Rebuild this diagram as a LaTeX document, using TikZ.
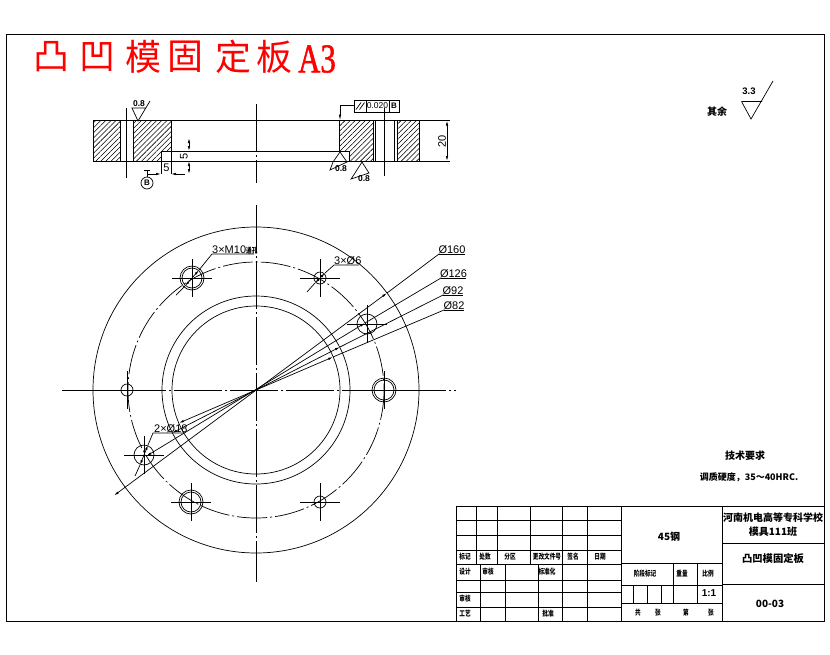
\documentclass[tikz,border=0pt]{standalone}
\usepackage{fontspec}
\setsansfont{Liberation Sans}
\newfontfamily\cjk{Noto Sans CJK SC}
\newfontfamily\cjknarrow[FakeStretch=0.75]{Noto Sans CJK SC}
\newfontfamily\narrowserif[FakeStretch=0.75,FakeBold=1.2]{Liberation Serif}
\usetikzlibrary{calc,patterns.meta,arrows.meta}
\tikzset{
  part/.style={line width=0.95pt},
  thin line/.style={line width=0.7pt},
  center line/.style={line width=0.7pt,dash pattern=on 48pt off 3pt on 2pt off 3pt},
  pitch line/.style={line width=0.7pt,dash pattern=on 30pt off 3pt on 2pt off 3pt},
  dim/.style={line width=0.7pt,{Latex[length=5pt,width=2.4pt]}-{Latex[length=5pt,width=2.4pt]}},
  lead/.style={line width=0.7pt,-{Latex[length=6pt,width=2.4pt]}},
  hatch/.style={pattern={Lines[angle=45,distance=3.6pt,line width=0.55pt]}},
  dimtext/.style={inner sep=0pt,font=\sffamily\fontsize{11}{11}\selectfont},
  cell/.style={inner sep=0pt,font=\cjknarrow\bfseries\fontsize{7.5}{7.5}\selectfont},
  bigcell/.style={inner sep=0pt,font=\cjk\bfseries\fontsize{10}{10}\selectfont},
  rough/.style={inner sep=0pt,font=\sffamily\bfseries\fontsize{8.5}{8.5}\selectfont},
  titlechar/.style={inner sep=0pt,red,font=\cjk\fontsize{36}{36}\selectfont}
}
\begin{document}
\begin{tikzpicture}[x=1pt,y=-1pt]
  \useasboundingbox (0,0) rectangle (830,654);
  \fill[white] (0,0) rectangle (830,654);
  \draw[part] (6,34) rectangle (824,621.5);

  % title
  \foreach \ch/\xpos/\nm in {凸/51/ta,凹/97/tb,模/143/tc,固/185/td,定/233/te,板/274/tf}
    \node[titlechar] (\nm) at (\xpos,57) {\ch};
  \node[inner sep=0pt,red,font=\narrowserif\fontsize{41}{41}\selectfont,anchor=west] (ta3) at (298,59) {A3};

  % section view
  \fill[hatch] (93,120.5) rectangle (120.5,161);
  \fill[hatch] (133.5,120.5) -- (171,120.5) -- (171,151) -- (161,151) -- (161,161) -- (133.5,161) -- cycle;
  \fill[hatch] (339,120.5) -- (373,120.5) -- (373,161) -- (349,161) -- (349,151) -- (339,151) -- cycle;
  \fill[hatch] (397,120.5) rectangle (419.5,161);
  \draw[part] (93,120.5) rectangle (419.5,161);
  \draw[part] (120.5,120.5) -- (120.5,161) (133.5,120.5) -- (133.5,161);
  \draw[part] (171,120.5) -- (171,151) (161,151) -- (161,161) (161,151) -- (349,151) -- (349,161);
  \draw[part] (339,120.5) -- (339,151);
  \draw[part] (373,120.5) -- (373,161) (375,120.5) -- (375,161);
  \draw[part] (394,120.5) -- (394,161) (397,120.5) -- (397,161);
  \draw[thin line] (126,108) -- (126,178);
  \draw[center line] (256,104) -- (256,183);
  \draw[thin line] (384,108) -- (384,176);

  % dimensions of the section
  \draw[thin line] (419.5,120.5) -- (450,120.5) (419.5,161) -- (450,161);
  \draw[dim] (447,120.5) -- (447,161);
  \node[dimtext,rotate=90] (d20) at (442,141) {20};
  \draw[thin line] (171,151) -- (189,151) (171,161) -- (189,161);
  \draw[dim] (189,138) -- (189,151);
  \draw[dim] (189,174) -- (189,161);
  \node[dimtext,rotate=90] (d5a) at (184,156) {5};
  \draw[thin line] (161,161) -- (161,174) (171,151) -- (171,174);
  \draw[thin line,-{Latex[length=5pt,width=2.4pt]}] (148,174) -- (161,174);
  \draw[thin line,-{Latex[length=5pt,width=2.4pt]}] (185,174) -- (171,174);
  \node[dimtext] (d5b) at (166.5,168) {5};

  % datum
  \draw[thin line] (143.5,170) -- (150,170) (147,170) -- (147,177);
  \node[draw,circle,thin line,minimum size=12pt,inner sep=0pt,font=\sffamily\bfseries\fontsize{8}{8}\selectfont] (dB) at (147,183) {B};

  % surface marks
  \draw[thin line] (150,101) -- (138,121) -- (132,108) -- (145,108);
  \node[rough] (r1) at (139,104) {0.8};
  \draw[thin line] (330,170) -- (333,162) -- (340,152) -- (347,162) -- cycle;
  \node[rough] (r2) at (341,169) {0.8};
  \draw[thin line] (351,179) -- (355,173) -- (362,162) -- (369,173) -- cycle;
  \node[rough] (r3) at (364,179) {0.8};

  % parallelism frame
  \draw[thin line] (354,100) rectangle (399,112) (366,100) -- (366,112) (389,100) -- (389,112);
  \draw[thin line] (356,109.5) -- (361,102.5) (359.5,109.5) -- (364.5,102.5);
  \node[inner sep=0pt,font=\sffamily\fontsize{8.5}{8.5}\selectfont] (t1) at (377.5,106) {0.020};
  \node[inner sep=0pt,font=\sffamily\bfseries\fontsize{8}{8}\selectfont] (t2) at (394,106) {B};
  \draw[lead] (354,105) -- (340,105) -- (340,120.5);

  % plan view
  \coordinate (o) at (256,390);
  \draw[thin line] (o) circle (163);
  \draw[pitch line] (o) circle (128);
  \draw[thin line] (o) circle (94);
  \draw[thin line] (o) circle (84);
  \draw[center line] (256,205) -- (256,582);
  \draw[center line] (62,390) -- (456,390);
  \foreach \hx/\hy/\hr in {192/278/10,320/278/6,367/324/10,384/390/10,127/390/6,144/455/10,191/502/10,320/502/6}{
    \draw[thin line] (\hx,\hy) circle (\hr);
    \draw[thin line] (\hx-20,\hy) -- (\hx+20,\hy) (\hx,\hy-19) -- (\hx,\hy+19);
  }
  \foreach \hx/\hy in {192/278,384/390,191/502}
    \draw[thin line] (\hx,\hy) circle (12);

  % diameters, each leader runs through the centre
  \coordinate (s160) at (439,254);
  \coordinate (s126) at (441,278);
  \coordinate (s92) at (443,295);
  \coordinate (s82) at (444,310);
  \draw[thin line] (s160) -- +(26,0) (s126) -- +(25,0) (s92) -- +(20,0) (s82) -- +(20,0);
  \draw[dim] (387,293) -- (114,495.5);
  \draw[thin line] (s160) -- (387,293);
  \draw[dim] (365,323) -- (146.5,456);
  \draw[thin line] (s126) -- (365,323);
  \draw[dim] (340,347) -- (172,433);
  \draw[thin line] (s92) -- (340,347);
  \draw[dim] (333,357) -- (179,423);
  \draw[thin line] (s82) -- (333,357);
  \node[dimtext,anchor=south] (l160) at (452,254) {Ø160};
  \node[dimtext,anchor=south] (l126) at (453.5,278) {Ø126};
  \node[dimtext,anchor=south] (l92) at (453,295) {Ø92};
  \node[dimtext,anchor=south] (l82) at (454,310) {Ø82};

  % hole callouts
  \draw[thin line] (254,254) -- (212,254) -- (199,270);
  \draw[dim] (199,270) -- (185,286);
  \draw[thin line] (185,286) -- (176,295);
  \node[dimtext,anchor=south west] (m10) at (212,254) {3×M10{\cjknarrow\bfseries\fontsize{7.5}{7.5}\selectfont 通孔}};
  \draw[thin line] (359,265) -- (334,265) -- (325,273);
  \draw[dim] (325,273) -- (315,283);
  \draw[thin line] (315,283) -- (307,292);
  \node[dimtext,anchor=south west] (m6) at (334,265) {3×Ø6};
  \draw[thin line] (183,433) -- (153,433) -- (148,445);
  \draw[dim] (148,445) -- (140,465);
  \draw[thin line] (140,465) -- (135,476);
  \node[dimtext,anchor=south west] (m18) at (154,433) {2×Ø18};

  % notes
  \node[bigcell] (rest) at (717,112) {其余};
  \node[rough,font=\sffamily\bfseries\fontsize{9.5}{9.5}\selectfont] (r33) at (749,91) {3.3};
  \draw[thin line] (741.5,101.5) -- (762,101.5) (741.5,101.5) -- (751,119) -- (773,81);
  \node[bigcell] (req) at (745,456) {技术要求};
  \node[bigcell,font=\cjk\bfseries\fontsize{9}{9}\selectfont] (req1) at (749,477) {调质硬度，35～40HRC.};

  % title block, left grid
  \foreach \yy in {506,520,535.5,550,564,580,592,607}
    \draw[thin line] (456,\yy) -- (621,\yy);
  \draw[part] (456,506) -- (824,506) (456,506) -- (456,621.5);
  \foreach \xx in {476.5,497.5,530,562.5,587.5}
    \draw[thin line] (\xx,506) -- (\xx,564);
  \foreach \xx in {480.5,505.5,538.5,562.5,587.5}
    \draw[thin line] (\xx,564) -- (\xx,621.5);
  \draw[part] (621,506) -- (621,621.5) (722,506) -- (722,621.5);
  % title block, right part
  \draw[thin line] (621,563) -- (722,563) (621,585) -- (722,585) (621,603) -- (722,603);
  \draw[thin line] (673.5,563) -- (673.5,603) (697,563) -- (697,603);
  \foreach \xx in {633.5,647,661}
    \draw[thin line] (\xx,585) -- (\xx,603);
  \draw[thin line] (722,543) -- (824,543) (722,584.5) -- (824,584.5);

  \foreach \tx/\ty/\tt/\nm in {465/557/标记/c1,485/557/处数/c2,510/557/分区/c3,547/557/更改文件号/c4,573/557/签名/c5,600/557/日期/c6,
      465/572/设计/c7,488/572/审核/c8,547/572/标准化/c9,465/599/审核/c10,465/614/工艺/c11,548/614/批准/c12,
      645/574/阶段标记/c13,682/574/重量/c14,708/574/比例/c15,
      638/613/共/c16,658/613/张/c17,686/613/第/c18,711/613/张/c19}
    \node[cell] (\nm) at (\tx,\ty) {\tt};
  \node[bigcell] (c20) at (669,537) {45钢};
  \node[inner sep=0pt,font=\sffamily\bfseries\fontsize{10}{10}\selectfont] (c21) at (709,593.5) {1:1};
  \node[bigcell] (c22) at (773,518) {河南机电高等专科学校};
  \node[bigcell] (c23) at (773,532) {模具111班};
  \node[bigcell,font=\cjk\bfseries\fontsize{10.3}{10.3}\selectfont] (c24) at (773,559) {凸凹模固定板};
  \node[bigcell] (c25) at (770,603.5) {00-03};
\end{tikzpicture}
\end{document}
